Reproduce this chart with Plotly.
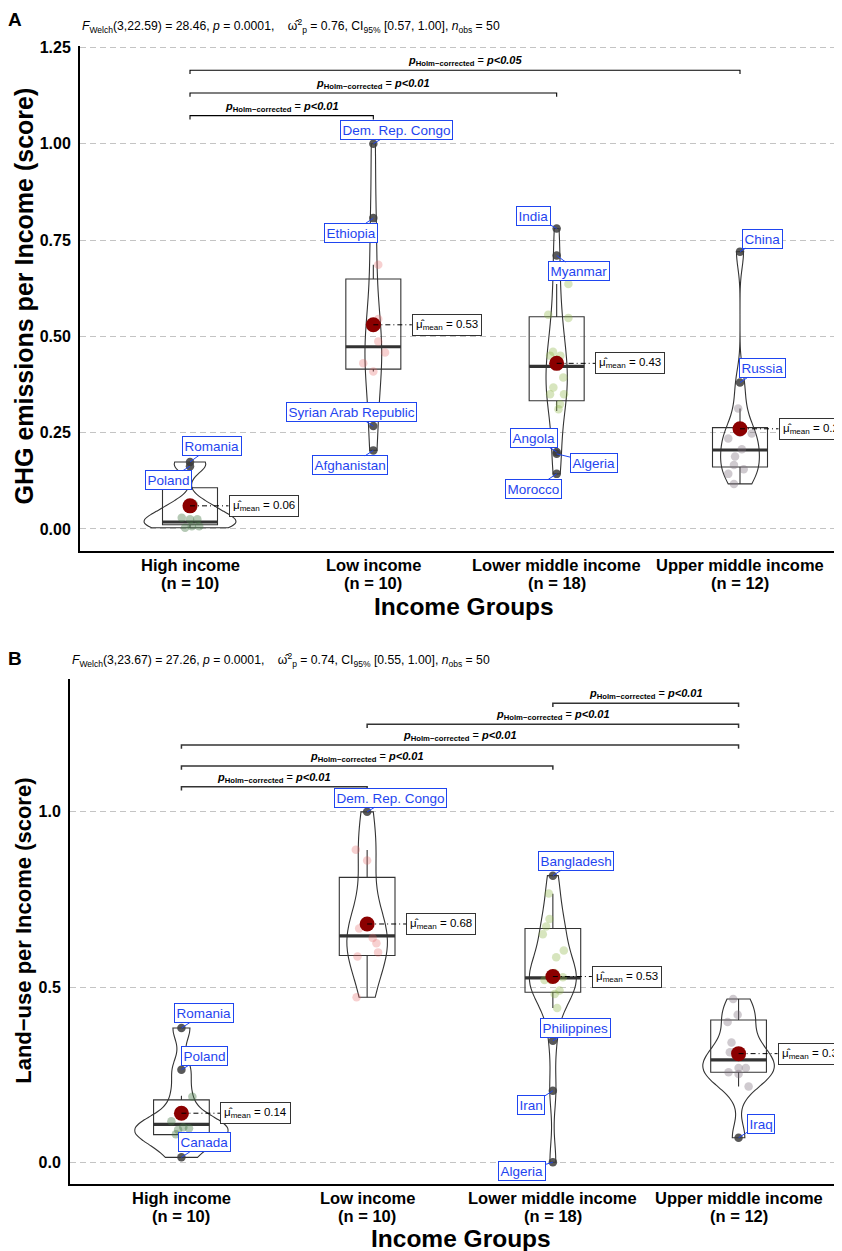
import numpy as np
import plotly.graph_objects as go

# ---------------- data ----------------
groups = ["High income", "Low income", "Lower middle income", "Upper middle income"]
group_n = [10, 10, 18, 12]
group_colors = ["rgba(70,120,70,0.40)", "rgba(230,100,100,0.30)",
                "rgba(140,180,70,0.35)", "rgba(130,115,130,0.38)"]

# Panel A : GHG emissions per income (unlabelled points)
ghg_high = [0.029, 0.025, 0.025, 0.003, 0.007, 0.007, 0.055, 0.065]
ghg_low = [0.686, 0.545, 0.487, 0.458, 0.43, 0.409]
ghg_lmid = [0.636, 0.556, 0.548, 0.45, 0.393, 0.367, 0.35, 0.35, 0.324, 0.311, 0.44, 0.45, 0.46]
ghg_umid = [0.313, 0.235, 0.248, 0.207, 0.188, 0.166, 0.143, 0.117, 0.25, 0.155]
# labelled countries
ghg_lab_names = [["Romania", "Poland"],
                 ["Dem. Rep. Congo", "Ethiopia", "Syrian Arab Republic", "Afghanistan"],
                 ["India", "Myanmar", "Angola", "Algeria", "Morocco"],
                 ["China", "Russia"]]
ghg_lab_vals = [[0.174, 0.163],
                [1.0, 0.807, 0.267, 0.204],
                [0.78, 0.71, 0.20, 0.195, 0.143],
                [0.72, 0.38]]
ghg_q1 = [0.011, 0.415, 0.333, 0.161]
ghg_med = [0.018, 0.473, 0.422, 0.205]
ghg_q3 = [0.107, 0.649, 0.551, 0.263]
ghg_lo = [0.003, 0.409, 0.306, 0.117]
ghg_hi = [0.107, 0.686, 0.636, 0.313]
ghg_means = [0.06, 0.53, 0.43, 0.26]
ghg_pairs = [(0, 1), (0, 2), (0, 3)]
ghg_pvals = ["p<0.01", "p<0.01", "p<0.05"]
ghg_bracket_y = [1.073, 1.132, 1.191]
ghg_stats = ["3,22.59", "28.46", "0.0001", "0.76", "[0.57, 1.00]", "50"]

# Panel B : Land-use per income
land_high = [0.187, 0.117, 0.093, 0.097, 0.06, 0.08, 0.10]
land_low = [0.892, 0.861, 0.667, 0.625, 0.599, 0.587, 0.471, 0.68, 0.64]
land_lmid = [0.767, 0.694, 0.673, 0.651, 0.604, 0.585, 0.528, 0.52, 0.49, 0.48, 0.44, 0.53, 0.54, 0.52]
land_umid = [0.466, 0.421, 0.40, 0.342, 0.314, 0.269, 0.269, 0.257, 0.252, 0.216, 0.31]
land_lab_names = [["Romania", "Poland", "Canada"],
                  ["Dem. Rep. Congo"],
                  ["Bangladesh", "Philippines", "Iran", "Algeria"],
                  ["Iraq"]]
land_lab_vals = [[0.383, 0.264, 0.014],
                 [1.0],
                 [0.818, 0.347, 0.204, 0.0],
                 [0.07]]
land_q1 = [0.079, 0.59, 0.485, 0.257]
land_med = [0.108, 0.646, 0.526, 0.292]
land_q3 = [0.178, 0.813, 0.667, 0.406]
land_lo = [0.079, 0.471, 0.44, 0.216]
land_hi = [0.19, 0.891, 0.766, 0.466]
land_means = [0.14, 0.68, 0.53, 0.31]
land_pairs = [(0, 1), (0, 2), (0, 3), (1, 3), (2, 3)]
land_pvals = ["p<0.01", "p<0.01", "p<0.01", "p<0.01", "p<0.01"]
land_bracket_y = [1.072, 1.131, 1.191, 1.25, 1.31]
land_stats = ["3,23.67", "27.26", "0.0001", "0.74", "[0.55, 1.00]", "50"]

# jitter offsets (category units) of the unlabelled points
ghg_jit = [[-0.045, 0.0, 0.04, -0.027, 0.01, 0.05, 0.0, 0.02],
           [0.027, 0.027, 0.027, 0.064, -0.055, 0.0],
           [0.064, -0.046, 0.064, -0.036, 0.036, -0.018, -0.036, 0.04, 0.018, 0.01, 0.0, 0.02, -0.02],
           [-0.01, -0.064, 0.064, 0.01, -0.027, -0.033, -0.064, -0.033, 0.0, 0.02]]
land_jit = [[0.059, -0.054, -0.018, 0.041, 0.02, -0.03, 0.01],
            [-0.061, 0.0, -0.043, 0.05, 0.059, -0.052, -0.057, 0.01, 0.03],
            [-0.022, -0.018, -0.036, -0.054, 0.059, 0.018, 0.054, -0.045, 0.036, 0.01, 0.023, 0.0, 0.01, -0.01],
            [-0.029, -0.005, -0.059, -0.038, -0.047, 0.0, 0.039, -0.054, 0.0, 0.054, 0.0]]
# label box offsets (pixels) from the labelled point
ghg_lab_off = [[(22, -16), (-22, 14)],
               [(23, -14), (-22, 15), (-22, -14), (-23, 15)],
               [(-23, -13), (22, 16), (-23, -14), (37, 9), (-23, 15)],
               [(22, -13), (22, -15)]]
land_lab_off = [[(23, -15), (23, -14), (23, -15)],
                [(23, -14)],
                [(23, -15), (23, -13), (-22, 14), (-31, 9)],
                [(22, -14)]]

# ---------------- helpers ----------------
FONT = "Liberation Sans, Arial, Helvetica, sans-serif"
W, H = 842, 1251
OX, OY = 8, 8          # page offset of the plot div (default body margin)
BLUE = "#1f45f0"


def px_x(px):
    return (px - OX) / W


def px_y(py):
    # small empirical vertical correction (5 px at top, 0 at bottom)
    py = py - 5.0 * (1170.0 - py) / 1120.0
    return (H - (py - OY)) / H


def nrd0(x):
    x = np.asarray(x, dtype=float)
    sd = np.std(x, ddof=1)
    q75, q25 = np.percentile(x, [75, 25])
    lo = min(sd, (q75 - q25) / 1.34)
    if lo <= 0:
        lo = sd if sd > 0 else 1.0
    return 0.9 * lo * len(x) ** (-0.2)


fig = go.Figure()
annotations = []

panels = [
    dict(xa="x", ya="y", vals=[ghg_high, ghg_low, ghg_lmid, ghg_umid], jit=ghg_jit,
         labn=ghg_lab_names, labv=ghg_lab_vals, labo=ghg_lab_off,
         box=(ghg_q1, ghg_med, ghg_q3, ghg_lo, ghg_hi), means=ghg_means,
         pairs=ghg_pairs, pv=ghg_pvals, by=ghg_bracket_y, bcol="black", bw=1.1,
         stats=ghg_stats, tip=0.010, rows=(564, 581.5)),
    dict(xa="x2", ya="y2", vals=[land_high, land_low, land_lmid, land_umid], jit=land_jit,
         labn=land_lab_names, labv=land_lab_vals, labo=land_lab_off,
         box=(land_q1, land_med, land_q3, land_lo, land_hi), means=land_means,
         pairs=land_pairs, pv=land_pvals, by=land_bracket_y, bcol="#333333", bw=1.5,
         stats=land_stats, tip=0.011, rows=(1197.5, 1215.5)),
]

for pi, P in enumerate(panels):
    xa, ya = P["xa"], P["ya"]
    # violins (area-scaled within a panel)
    for i, g in enumerate(groups):
        allv = list(P["vals"][i]) + list(P["labv"][i])
        fig.add_trace(go.Violin(
            x=[i] * len(allv), y=allv, xaxis=xa, yaxis=ya, name=f"{g}{pi}",
            scalegroup=f"sg{pi}", scalemode="width", spanmode="hard",
            bandwidth=nrd0(allv), points=False, side="both",
            line=dict(color="#333333", width=1.1), fillcolor="rgba(0,0,0,0)",
            showlegend=False, hoverinfo="skip"))
    # boxes
    q1, med, q3, lo, hi = P["box"]
    fig.add_trace(go.Box(
        x=list(range(4)), q1=q1, median=med, q3=q3, lowerfence=lo, upperfence=hi,
        xaxis=xa, yaxis=ya, width=0.3, whiskerwidth=0, boxpoints=False,
        line=dict(color="#333333", width=1.1), fillcolor="rgba(0,0,0,0)",
        showlegend=False, hoverinfo="skip"))
    mx, my = [], []
    for i in range(4):
        mx += [i - 0.15, i + 0.15, None]
        my += [med[i], med[i], None]
    fig.add_trace(go.Scatter(x=mx, y=my, mode="lines", xaxis=xa, yaxis=ya,
                             line=dict(color="#333333", width=3.2),
                             showlegend=False, hoverinfo="skip"))
    # jittered points
    for i in range(4):
        fig.add_trace(go.Scatter(
            x=[i + j for j in P["jit"][i]], y=P["vals"][i], mode="markers",
            xaxis=xa, yaxis=ya, marker=dict(size=8.5, color=group_colors[i], line=dict(width=0)),
            showlegend=False, hoverinfo="skip"))
    # labelled points
    for i in range(4):
        fig.add_trace(go.Scatter(
            x=[i] * len(P["labv"][i]), y=P["labv"][i], mode="markers",
            xaxis=xa, yaxis=ya, marker=dict(size=8.5, color="rgba(60,60,60,0.85)", line=dict(width=0)),
            showlegend=False, hoverinfo="skip"))
    # means
    fig.add_trace(go.Scatter(
        x=list(range(4)), y=P["means"], mode="markers", xaxis=xa, yaxis=ya,
        marker=dict(size=15, color="#8b0000", line=dict(width=0)),
        showlegend=False, hoverinfo="skip"))
    dx, dy = [], []
    for i, m in enumerate(P["means"]):
        dx += [i, i + 0.21, None]
        dy += [m, m, None]
    fig.add_trace(go.Scatter(x=dx, y=dy, mode="lines", xaxis=xa, yaxis=ya,
                             line=dict(color="black", width=1, dash="5px,3px,1px,3px"),
                             showlegend=False, hoverinfo="skip"))
    for i, m in enumerate(P["means"]):
        annotations.append(dict(
            x=i + 0.21, y=m, xref=xa, yref=ya, xanchor="left", yanchor="middle",
            text=f"μ̂<sub>mean</sub> = {m:.2f}", showarrow=False,
            font=dict(family=FONT, size=11.5, color="black"),
            bgcolor="white", bordercolor="#333333", borderwidth=1, borderpad=3))
    # brackets
    bx, byy = [], []
    tip = P["tip"]
    for (a, b), h, pv in zip(P["pairs"], P["by"], P["pv"]):
        bx += [a, a, b, b, None]
        byy += [h - tip, h, h, h - tip, None]
        annotations.append(dict(
            x=(a + b) / 2, y=h, xref=xa, yref=ya, xanchor="center", yanchor="bottom",
            showarrow=False,
            text=f"<b><i>p</i></b><sub><b>Holm−corrected</b></sub> = <b><i>{pv.replace('<', '&lt;')}</i></b>",
            font=dict(family=FONT, size=11, color="black")))
    fig.add_trace(go.Scatter(x=bx, y=byy, mode="lines", xaxis=xa, yaxis=ya,
                             line=dict(color=P["bcol"], width=P["bw"]),
                             showlegend=False, hoverinfo="skip"))
    # country labels
    for i in range(4):
        for name, v, (ox, oy) in zip(P["labn"][i], P["labv"][i], P["labo"][i]):
            annotations.append(dict(
                x=i, y=v, xref=xa, yref=ya, text=name, showarrow=True,
                ax=ox, ay=oy, arrowhead=0, arrowwidth=1, arrowcolor=BLUE,
                standoff=0, startstandoff=0,
                font=dict(family=FONT, size=13.5, color=BLUE),
                bgcolor="white", bordercolor=BLUE, borderwidth=1, borderpad=1.5))
    # x tick labels (two lines)
    r1, r2 = P["rows"]
    for i, (g, n) in enumerate(zip(groups, group_n)):
        annotations.append(dict(
            x=i, y=px_y(r1), xref=xa, yref="paper", text=f"<b>{g}</b>", showarrow=False,
            xanchor="center", yanchor="middle", font=dict(family=FONT, size=16.5, color="black")))
        annotations.append(dict(
            x=i, y=px_y(r2), xref=xa, yref="paper", text=f"<b>(n = {n})</b>", showarrow=False,
            xanchor="center", yanchor="middle", font=dict(family=FONT, size=16.5, color="black")))


def subtitle(s):
    sp = "\u00a0" * 4
    return (f"<i>F</i><sub>Welch</sub>({s[0]}) = {s[1]}, <i>p</i> = {s[2]},{sp}"
            f"ω̂<sup>2</sup><sub>p</sub> = {s[3]}, CI<sub>95%</sub> {s[4]}, "
            f"<i>n</i><sub>obs</sub> = {s[5]}")


def pap(px, py, text, size, **kw):
    d = dict(x=px_x(px), y=px_y(py), xref="paper", yref="paper", text=text, showarrow=False,
             xanchor="center", yanchor="middle", font=dict(family=FONT, size=size, color="black"))
    d.update(kw)
    return d


annotations += [
    pap(15, 18, "<b>A</b>", 19),
    pap(15, 657, "<b>B</b>", 19),
    pap(80, 24, subtitle(ghg_stats), 12.2, xanchor="left"),
    pap(70, 659, subtitle(land_stats), 12.2, xanchor="left"),
    pap(24, 295, "<b>GHG emissions per Income (score)</b>", 25, textangle=-90),
    pap(24, 930, "<b>Land−use per Income (score)</b>", 22, textangle=-90),
    pap(464, 605, "<b>Income Groups</b>", 24.5),
    pap(461, 1238, "<b>Income Groups</b>", 24.5),
]

xcommon = dict(showgrid=False, zeroline=False, showline=True, linewidth=2, linecolor="black",
               ticks="", showticklabels=False, fixedrange=True, range=[-0.6, 3.6])
ycommon = dict(showgrid=True, gridcolor="#c4c4c4", griddash="6px,4px", gridwidth=1,
               zeroline=False, showline=True, linewidth=2, linecolor="black", ticks="",
               tickfont=dict(family=FONT, size=16, color="black", weight="bold"),
               ticklabelstandoff=4, fixedrange=True)

fig.update_layout(
    width=W, height=H, margin=dict(l=0, r=0, t=0, b=0),
    paper_bgcolor="white", plot_bgcolor="white", showlegend=False,
    violinmode="overlay", boxmode="overlay", violingap=0.5, violingroupgap=0,
    xaxis=dict(domain=[px_x(80), 1], anchor="y", **xcommon),
    yaxis=dict(domain=[px_y(550), px_y(44)], range=[-0.0578, 1.2544], anchor="x",
               tickvals=[0, 0.25, 0.5, 0.75, 1.0, 1.25],
               ticktext=["0.00", "0.25", "0.50", "0.75", "1.00", "1.25"], **ycommon),
    xaxis2=dict(domain=[px_x(70), 1], anchor="y2", **xcommon),
    yaxis2=dict(domain=[px_y(1183.5), px_y(678)], range=[-0.062, 1.379], anchor="x2",
                tickvals=[0, 0.5, 1.0], ticktext=["0.0", "0.5", "1.0"], **ycommon),
    annotations=annotations,
)

fig.write_html("out.html")
